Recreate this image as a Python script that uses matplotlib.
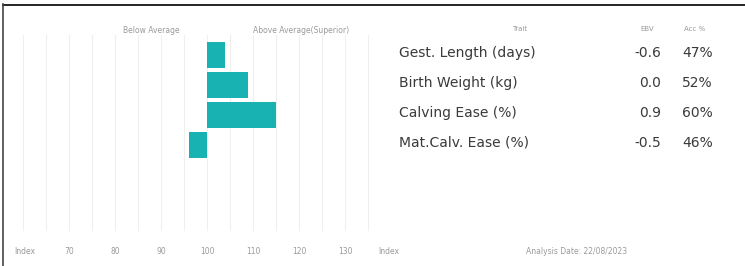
import numpy as np
import matplotlib
matplotlib.use('Agg')
import matplotlib.pyplot as plt
from matplotlib.lines import Line2D

# Data
traits = ['Gest. Length (days)', 'Birth Weight (kg)', 'Calving Ease (%)', 'Mat.Calv. Ease (%)']
ebv = ['-0.6', '0.0', '0.9', '-0.5']
acc = ['47%', '52%', '60%', '46%']
index_vals = [104, 109, 115, 96]
tick_vals = [70, 80, 90, 100, 110, 120, 130]
grid_vals = list(range(60, 140, 5))
analysis_date = 'Analysis Date: 22/08/2023'

W, H = 745, 266
TEAL = '#19b2b2'
GREY = '#9a9a9a'
DARK = '#3a3a3a'

fig = plt.figure(figsize=(W / 100, H / 100), dpi=100)

def px(x, y):
    return x / W, 1 - y / H

# bar panel: x pixel = 207 + (v - 100) * 4.6
x0 = 207 + (56 - 100) * 4.6
x1 = 207 + (142 - 100) * 4.6
top, bot = 18, 238
ax = fig.add_axes([x0 / W, 1 - bot / H, (x1 - x0) / W, (bot - top) / H])
ax.set_xlim(56, 142)
# row i center at pixel 55 + 30*i
ax.set_ylim((bot - 55) / 30, (top - 55) / 30)
for s in ax.spines.values():
    s.set_visible(False)
ax.set_xticks([]); ax.set_yticks([])

for g in grid_vals:
    ax.axvline(g, ymin=0.036, ymax=0.925, color='#efefef', lw=0.8, zorder=0)

y = np.arange(len(traits))
ax.barh(y, [v - 100 for v in index_vals], left=100, height=0.87,
        color=TEAL, zorder=3)

ax.text(88, -0.83, 'Below Average', ha='center', va='center', fontsize=5.5, color=GREY)
ax.text(120.5, -0.83, 'Above Average(Superior)', ha='center', va='center', fontsize=5.5, color=GREY)

# index axis labels
fig.text(*px(25, 251), 'Index', ha='center', va='center', fontsize=5.5, color=GREY)
fig.text(*px(389, 251), 'Index', ha='center', va='center', fontsize=5.5, color=GREY)
for t in tick_vals:
    fig.text(*px(207 + (t - 100) * 4.6, 251), str(t), ha='center', va='center',
             fontsize=5.5, color=GREY)

# table
fig.text(*px(520, 29), 'Trait', ha='center', va='center', fontsize=5, color=GREY)
fig.text(*px(647, 29), 'EBV', ha='center', va='center', fontsize=5, color=GREY)
fig.text(*px(695, 29), 'Acc %', ha='center', va='center', fontsize=5, color=GREY)
for i, (tr, e, a) in enumerate(zip(traits, ebv, acc)):
    yy = 53 + 30 * i
    fig.text(*px(399, yy), tr, ha='left', va='center', fontsize=10, color=DARK)
    fig.text(*px(661, yy), e, ha='right', va='center', fontsize=10, color=DARK)
    fig.text(*px(713, yy), a, ha='right', va='center', fontsize=10, color=DARK)

fig.text(*px(577, 251), analysis_date, ha='center', va='center', fontsize=5.5, color=GREY)

# outer frame
fig.add_artist(Line2D([3 / W, 1], [1 - 4.5 / H, 1 - 4.5 / H], color='black', lw=1.2))
fig.add_artist(Line2D([3.5 / W, 3.5 / W], [0, 1 - 4 / H], color='#444444', lw=1.2))

fig.savefig('out.png', dpi=100)
